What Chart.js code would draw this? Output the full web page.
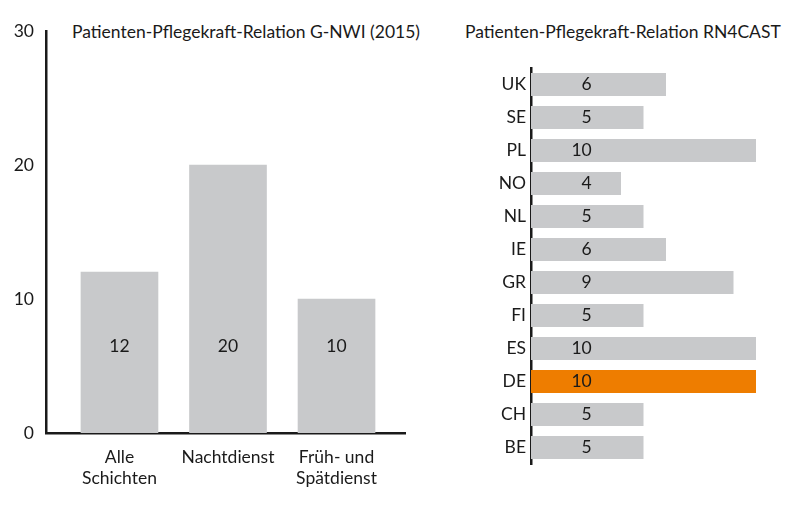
<!DOCTYPE html>
<html>
<head>
<meta charset="utf-8">
<script src="https://cdn.jsdelivr.net/npm/chart.js@4.4.0/dist/chart.umd.min.js"></script>
<style>
  html, body { margin: 0; padding: 0; background: #fff; }
  body { width: 800px; height: 513px; position: relative; overflow: hidden;
         font-family: Lato, sans-serif; color: #1a1a1a; }
  .title { position: absolute; top: 22px; font-size: 17.5px; line-height: 20px; white-space: nowrap; }
  #left-wrap { position: absolute; left: 0; top: 0; width: 430px; height: 513px; }
  #right-wrap { position: absolute; left: 440px; top: 0; width: 360px; height: 513px; }
</style>
</head>
<body>
<div class="title" style="left:72px">Patienten-Pflegekraft-Relation G-NWI (2015)</div>
<div class="title" style="left:465px">Patienten-Pflegekraft-Relation RN4CAST</div>
<div id="left-wrap"><canvas id="shift-chart" width="430" height="513"></canvas></div>
<div id="right-wrap"><canvas id="country-chart" width="360" height="513"></canvas></div>

<script>
// ─── Data ───────────────────────────────────────────────────

const shiftLabels = [['Alle', 'Schichten'], 'Nachtdienst', ['Früh- und', 'Spätdienst']];
const shiftValues = [12, 20, 10];
const shiftTicks = [0, 10, 20, 30];

const countries = ['UK', 'SE', 'PL', 'NO', 'NL', 'IE', 'GR', 'FI', 'ES', 'DE', 'CH', 'BE'];
const countryValues = [6, 5, 10, 4, 5, 6, 9, 5, 10, 10, 5, 5];
const highlightCountry = 'DE';

// ─── Style ──────────────────────────────────────────────────

const GREY = '#c8c9cb';
const ORANGE = '#ee7d00';
const INK = '#1a1a1a';
const FONT = { family: 'Lato', size: 17.5 };

Chart.defaults.font.family = FONT.family;
Chart.defaults.font.size = FONT.size;
Chart.defaults.color = INK;

// value labels inside the bars, at a fixed spot on the value axis
const barLabels = {
  id: 'barLabels',
  afterDatasetsDraw(chart, args, opts) {
    const { ctx } = chart;
    const meta = chart.getDatasetMeta(0);
    const values = chart.data.datasets[0].data;
    ctx.save();
    ctx.font = `${FONT.size}px ${FONT.family}`;
    ctx.fillStyle = INK;
    ctx.textBaseline = 'middle';
    meta.data.forEach((bar, i) => {
      const v = values[i];
      const text = String(typeof v === 'object' ? v.y : v);
      if (opts.horizontal) {
        ctx.textAlign = 'right';
        ctx.fillText(text, chart.scales.x.getPixelForValue(opts.at), bar.y);
      } else {
        ctx.textAlign = 'center';
        ctx.fillText(text, bar.x, chart.scales.y.getPixelForValue(opts.at));
      }
    });
    ctx.restore();
  },
};

// ─── Left: G-NWI shifts ─────────────────────────────────────

new Chart(document.getElementById('shift-chart'), {
  type: 'bar',
  data: {
    datasets: [{
      data: shiftValues.map((v, i) => ({ x: i + 1, y: v })),
      backgroundColor: GREY,
      barThickness: 77,
    }],
  },
  plugins: [barLabels],
  options: {
    responsive: false,
    animation: false,
    layout: { padding: { top: 31, right: 25, left: 0, bottom: 0 } },
    plugins: {
      legend: { display: false },
      tooltip: { enabled: false },
      barLabels: { at: 6.5 },
    },
    scales: {
      x: {
        type: 'linear',
        offset: false,
        min: 0.323,
        max: 3.631,
        afterBuildTicks: s => { s.ticks = shiftLabels.map((_, i) => ({ value: i + 1 })); },
        afterFit: s => { s.height = 80; },
        ticks: {
          padding: 14,
          callback: v => shiftLabels[v - 1] || '',
        },
        grid: { display: false, drawTicks: false },
        border: { display: true, color: INK, width: 2.5 },
      },
      y: {
        min: 0,
        max: 30,
        afterBuildTicks: s => { s.ticks = shiftTicks.map(v => ({ value: v })); },
        afterFit: s => { s.width = 46; },
        ticks: { padding: 12 },
        grid: { display: false, drawTicks: false },
        border: { display: true, color: INK, width: 2.5 },
      },
    },
  },
});

// ─── Right: RN4CAST countries ───────────────────────────────

new Chart(document.getElementById('country-chart'), {
  type: 'bar',
  data: {
    labels: countries,
    datasets: [{
      data: countryValues,
      backgroundColor: countries.map(c => c === highlightCountry ? ORANGE : GREY),
      barPercentage: 0.7,
      categoryPercentage: 1,
    }],
  },
  plugins: [barLabels],
  options: {
    indexAxis: 'y',
    responsive: false,
    animation: false,
    layout: { padding: { top: 68, right: 44, left: 0, bottom: 49 } },
    plugins: {
      legend: { display: false },
      tooltip: { enabled: false },
      barLabels: { at: 2.7, horizontal: true },
    },
    scales: {
      x: { display: false, min: 0, max: 10 },
      y: {
        afterFit: s => { s.width = 91; },
        ticks: { padding: 5 },
        grid: { display: false, drawTicks: false },
        border: { display: true, color: INK, width: 2.5 },
      },
    },
  },
});
</script>
</body>
</html>
